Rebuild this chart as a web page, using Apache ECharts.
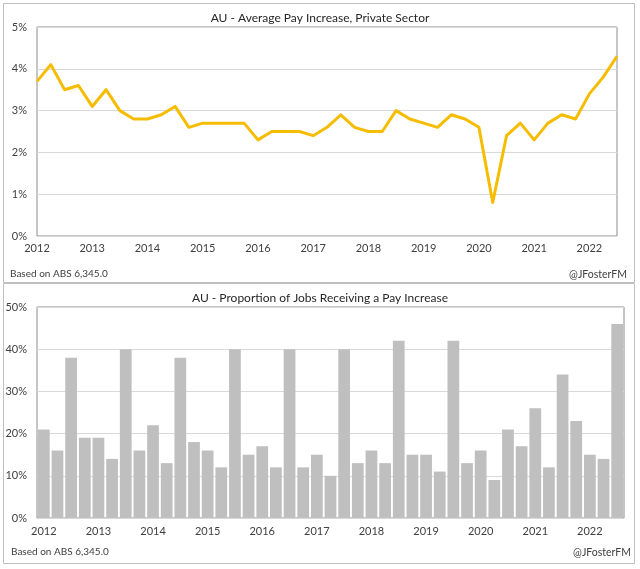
<!DOCTYPE html>
<html>
<head>
<meta charset="utf-8">
<script src="https://cdn.jsdelivr.net/npm/echarts@6/dist/echarts.min.js"></script>
<style>
html,body{margin:0;padding:0;background:#fff;}
#c{width:640px;height:569px;}
</style>
</head>
<body>
<div id="c"></div>
<script>
// Quarters 2012 Q1 .. 2022 Q3
const quarters = [];
const years = [2012,2013,2014,2015,2016,2017,2018,2019,2020,2021,2022];
years.forEach(y => { for (let q = 1; q <= 4; q++) { if (y === 2022 && q > 3) break; quarters.push(y + ' Q' + q); } });

const topTitle = 'AU - Average Pay Increase, Private Sector';
const bottomTitle = 'AU - Proportion of Jobs Receiving a Pay Increase';
const sourceNote = 'Based on ABS 6,345.0';
const handle = '@JFosterFM';

// Average pay increase, % (private sector)
const avgPayIncrease = [
  3.7, 4.1, 3.5, 3.6,
  3.1, 3.5, 3.0, 2.8,
  2.8, 2.9, 3.1, 2.6,
  2.7, 2.7, 2.7, 2.7,
  2.3, 2.5, 2.5, 2.5,
  2.4, 2.6, 2.9, 2.6,
  2.5, 2.5, 3.0, 2.8,
  2.7, 2.6, 2.9, 2.8,
  2.6, 0.8, 2.4, 2.7,
  2.3, 2.7, 2.9, 2.8,
  3.4, 3.8, 4.3
];

// Proportion of jobs receiving a pay increase, %
const jobsProportion = [
  21, 16, 38, 19,
  19, 14, 40, 16,
  22, 13, 38, 18,
  16, 12, 40, 15,
  17, 12, 40, 12,
  15, 10, 40, 13,
  16, 13, 42, 15,
  15, 11, 42, 13,
  16, 9, 21, 17,
  26, 12, 34, 23,
  15, 14, 46
];

const topTicks = [0,1,2,3,4,5];
const bottomTicks = [0,10,20,30,40,50];

const FONT = 'Lato';
const TXT = '#404040';

const yearLabel = v => v.slice(0,4);

const chart = echarts.init(document.getElementById('c'), null, {renderer:'canvas'});
chart.setOption({
  animation:false,
  backgroundColor:'#ffffff',
  textStyle:{fontFamily:FONT},
  title:[
    {text:topTitle, left:'center', top:7, textStyle:{fontFamily:FONT, fontSize:12, fontWeight:'normal', color:'#262626'}},
    {text:bottomTitle, left:'center', top:287, textStyle:{fontFamily:FONT, fontSize:12, fontWeight:'normal', color:'#262626'}}
  ],
  graphic:[
    {type:'rect', shape:{x:3.5,y:3.5,width:631,height:279}, style:{fill:'none', stroke:'#bfbfbf', lineWidth:1}, silent:true, z:-1},
    {type:'rect', shape:{x:3.5,y:283.5,width:631,height:280}, style:{fill:'none', stroke:'#bfbfbf', lineWidth:1}, silent:true, z:-1},
    {type:'text', left:10, top:269, style:{text:sourceNote, font:'10px Lato', fill:TXT}},
    {type:'text', right:13, top:269, style:{text:handle, font:'10.5px Lato', fill:TXT}},
    {type:'text', left:11, top:547, style:{text:sourceNote, font:'10px Lato', fill:TXT}},
    {type:'text', right:9, top:547, style:{text:handle, font:'10.5px Lato', fill:TXT}}
  ],
  grid:[
    {left:37, top:27, width:580, height:209, show:true, borderColor:'#8c8c8c', borderWidth:1, backgroundColor:'transparent'},
    {left:37, top:307, width:587, height:211, show:true, borderColor:'#8c8c8c', borderWidth:1, backgroundColor:'transparent'}
  ],
  xAxis:[
    {type:'category', gridIndex:0, data:quarters, boundaryGap:false,
     axisLine:{show:false}, axisTick:{show:false},
     axisLabel:{interval:3, formatter:yearLabel, color:TXT, fontSize:11, fontFamily:FONT, margin:7}},
    {type:'category', gridIndex:1, data:quarters, boundaryGap:true,
     axisLine:{show:false}, axisTick:{show:false},
     axisLabel:{interval:3, formatter:yearLabel, color:TXT, fontSize:11, fontFamily:FONT, margin:8}}
  ],
  yAxis:[
    {type:'value', gridIndex:0, min:topTicks[0], max:topTicks[topTicks.length-1], interval:1,
     axisLine:{show:false}, axisTick:{show:false},
     splitLine:{lineStyle:{color:'#d9d9d9', width:1}},
     axisLabel:{formatter:'{value}%', color:TXT, fontSize:11, fontFamily:FONT, margin:10}},
    {type:'value', gridIndex:1, min:bottomTicks[0], max:bottomTicks[bottomTicks.length-1], interval:10,
     axisLine:{show:false}, axisTick:{show:false},
     splitLine:{lineStyle:{color:'#d9d9d9', width:1}},
     axisLabel:{formatter:'{value}%', color:TXT, fontSize:11, fontFamily:FONT, margin:10}}
  ],
  series:[
    {type:'line', xAxisIndex:0, yAxisIndex:0, data:avgPayIncrease, showSymbol:false, symbol:'none',
     lineStyle:{color:'#F6BC00', width:3, join:'round'}, itemStyle:{color:'#F6BC00'}},
    {type:'bar', xAxisIndex:1, yAxisIndex:1, data:jobsProportion, barCategoryGap:'14%',
     itemStyle:{color:'#bfbfbf'}}
  ]
});
</script>
</body>
</html>
